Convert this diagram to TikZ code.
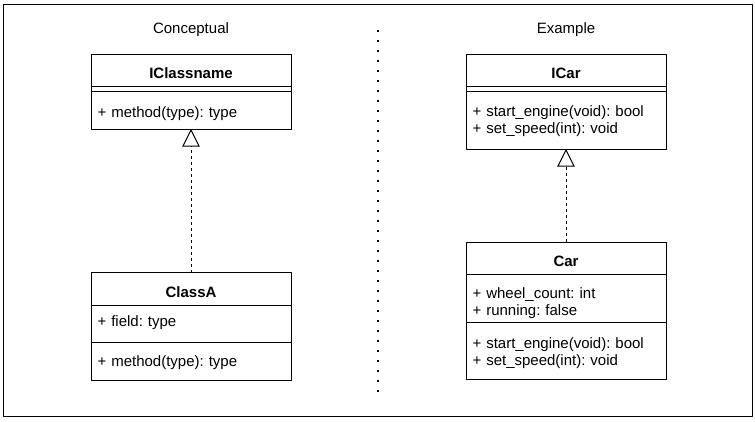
\documentclass[tikz,border=0pt]{standalone}
\usepackage{fontspec}
\setmainfont{Liberation Sans}
\usetikzlibrary{positioning,arrows.meta}
\begin{document}
\begin{tikzpicture}[x=1pt,y=-1pt,line join=round,font=\fontsize{15}{17}\selectfont\frenchspacing,
  box/.style={draw,line width=1pt,minimum width=200pt,outer sep=0pt,inner sep=0pt},
  umltitle/.style={box,text height=24.8pt,text depth=7.7pt,font=\fontsize{15}{17}\selectfont\bfseries},
  umlsep/.style={box,minimum height=5pt},
  umlpart/.style 2 args={box,text width=187pt,inner xsep=6.5pt,align=left,text height=#2pt,text depth=#1pt-#2pt},
  realize/.style={dash pattern=on 3pt off 3pt,line width=1pt,-{Triangle[open,length=17.5pt,width=17.5pt]}}]
	\path[fill=white,use as bounding box] (0,0) rectangle (755,421);
	\draw[line width=1pt] (3.5,4.5) rectangle (752,416.5);
	\node (conceptual) at (191,29.5) {Conceptual};
	\node (example) at (566,29.5) {Example};
	% conceptual side
	\node[umltitle,anchor=north] (iclass) at (191,54) {IClassname};
	\node[umlsep,below=0pt of iclass] (iclass-sep) {};
	\node[umlpart={37.5}{26},below=0pt of iclass-sep] (iclass-ops) {+ method(type): type};
	\node[umltitle,anchor=north] (classa) at (191,272.5) {ClassA};
	\node[umlpart={37.5}{21.5},below=0pt of classa] (classa-attr) {+ field: type};
	\node[umlpart={37.5}{23.5},below=0pt of classa-attr] (classa-ops) {+ method(type): type};
	\draw[realize] (classa.north) -- (iclass-ops.south);
	% divider
	\coordinate (divtop) at (378.3,29.7);
	\coordinate (divbot) at (378.3,392);
	\draw[line width=2pt,dash pattern=on 2pt off 8pt] (divtop) -- (divbot);
	% example side
	\node[umltitle,anchor=north] (icar) at (566,54) {ICar};
	\node[umlsep,below=0pt of icar] (icar-sep) {};
	\node[umlpart={57.5}{25},below=0pt of icar-sep] (icar-ops) {+ start\_engine(void): bool\\+ set\_speed(int): void};
	\node[umltitle,anchor=north] (car) at (566,242) {Car};
	\node[umlpart={48}{24},below=0pt of car] (car-attr) {+ wheel\_count: int\\+ running: false};
	\node[umlpart={56.5}{25.5},below=0pt of car-attr] (car-ops) {+ start\_engine(void): bool\\+ set\_speed(int): void};
	\draw[realize] (car.north) -- (icar-ops.south);
\end{tikzpicture}
\end{document}
